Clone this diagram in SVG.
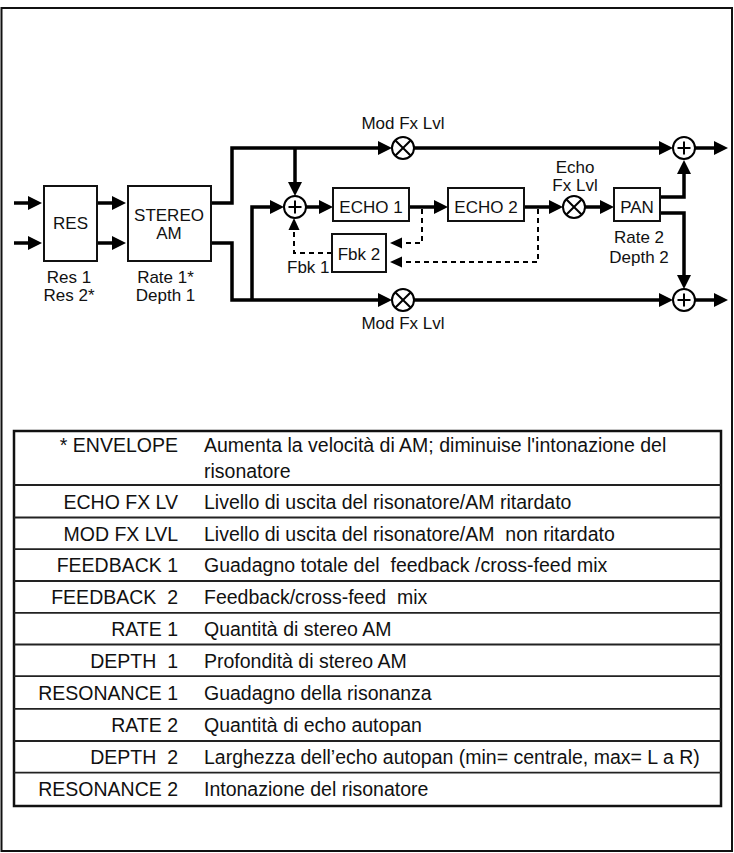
<svg xmlns="http://www.w3.org/2000/svg" width="734" height="853" viewBox="0 0 734 853" xml:space="preserve">
<style>
  .frame{fill:none;stroke:#111;stroke-width:2}
  .box{fill:#fff;stroke:#111;stroke-width:2}
  .sig{fill:none;stroke:#000;stroke-width:3.5;marker-end:url(#ah)}
  .dash{fill:none;stroke:#000;stroke-width:2;stroke-dasharray:5,4;marker-end:url(#ahs)}
  .op{fill:#fff;stroke:#000;stroke-width:2}
  .opl{stroke:#000;stroke-width:2}
  .t{font-family:"Liberation Sans",Arial,Helvetica,sans-serif;font-size:17px;fill:#111;text-anchor:middle}
  .tb{font-family:"Liberation Sans",Arial,Helvetica,sans-serif;font-size:19.5px;fill:#111;white-space:pre}
  .lab{text-anchor:end}
  .tbl{fill:none;stroke:#111;stroke-width:2.5}
  .row{stroke:#222;stroke-width:1.8}
</style>
<defs>
  <marker id="ah" viewBox="0 0 14 14" markerWidth="14" markerHeight="14" refX="0" refY="7" orient="auto" markerUnits="userSpaceOnUse">
    <path d="M0,0 L14,7 L0,14 z" fill="#000"/>
  </marker>
  <marker id="ahs" viewBox="0 0 12 12" markerWidth="12" markerHeight="12" refX="0" refY="6" orient="auto" markerUnits="userSpaceOnUse">
    <path d="M0,0.5 L12,6 L0,11.5 z" fill="#000"/>
  </marker>
  <g id="mul">
    <circle r="11" class="op"/>
    <line x1="-7.8" y1="-7.8" x2="7.8" y2="7.8" class="opl"/>
    <line x1="-7.8" y1="7.8" x2="7.8" y2="-7.8" class="opl"/>
  </g>
  <g id="sum">
    <circle r="11" class="op"/>
    <line x1="-6.5" y1="0" x2="6.5" y2="0" class="opl"/>
    <line x1="0" y1="-6.5" x2="0" y2="6.5" class="opl"/>
  </g>
</defs>

<rect x="1.5" y="8" width="730.5" height="843" class="frame"/>

<g id="connectors">
  <path class="sig" d="M14,203 H28"/>
  <path class="sig" d="M14,243 H28"/>
  <path class="sig" d="M97,203 H112"/>
  <path class="sig" d="M97,243 H112"/>
  <path class="sig" d="M211,203 H232 V148 H378"/>
  <path class="sig" d="M211,243 H232 V300 H378"/>
  <path class="sig" d="M295,148 V182"/>
  <path class="sig" d="M252,300 V207 H270"/>
  <path class="sig" d="M306,207 H319"/>
  <path class="sig" d="M409,207 H434"/>
  <path class="sig" d="M524,207 H549"/>
  <path class="sig" d="M585,207 H600"/>
  <path class="sig" d="M660,197 H684 V174"/>
  <path class="sig" d="M660,213 H684 V275"/>
  <path class="sig" d="M414,148 H659"/>
  <path class="sig" d="M414,300 H659"/>
  <path class="sig" d="M695,148 H714"/>
  <path class="sig" d="M695,300 H714"/>
  <path class="dash" d="M422,209 V243 H402"/>
  <path class="dash" d="M538,209 V262 H402"/>
  <path class="dash" d="M332,253 H294 V230"/>
</g>

<g id="res">
  <rect x="44" y="186" width="53" height="75" class="box"/>
  <text x="70.5" y="229" class="t">RES</text>
  <text x="69" y="283" class="t">Res 1</text>
  <text x="69" y="301" class="t">Res 2*</text>
</g>
<g id="stereo-am">
  <rect x="128" y="186" width="83" height="75" class="box"/>
  <text x="169" y="221" class="t">STEREO</text>
  <text x="169" y="239" class="t">AM</text>
  <text x="165.5" y="283" class="t">Rate 1*</text>
  <text x="165.5" y="301" class="t">Depth 1</text>
</g>
<g id="mul-top">
  <use href="#mul" x="403" y="148"/>
  <text x="403" y="129" class="t">Mod Fx Lvl</text>
</g>
<g id="mul-bottom">
  <use href="#mul" x="403" y="300"/>
  <text x="403" y="329" class="t">Mod Fx Lvl</text>
</g>
<g id="sum-in">
  <use href="#sum" x="295" y="207"/>
</g>
<g id="echo1">
  <rect x="333" y="188" width="76" height="33" class="box"/>
  <text x="371" y="213" class="t">ECHO 1</text>
</g>
<g id="echo2">
  <rect x="448" y="188" width="76" height="33" class="box"/>
  <text x="486" y="213" class="t">ECHO 2</text>
</g>
<g id="fbk2">
  <rect x="332" y="234" width="54" height="38" class="box"/>
  <text x="359" y="260" class="t">Fbk 2</text>
</g>
<g id="fbk1">
  <text x="287" y="273" class="t" style="text-anchor:start">Fbk 1</text>
</g>
<g id="mul-echo">
  <use href="#mul" x="574" y="207"/>
  <text x="575" y="173" class="t">Echo</text>
  <text x="575" y="191" class="t">Fx Lvl</text>
</g>
<g id="pan">
  <rect x="614" y="188" width="46" height="33" class="box"/>
  <text x="637" y="213" class="t">PAN</text>
  <text x="639" y="243" class="t">Rate 2</text>
  <text x="639" y="263" class="t">Depth 2</text>
</g>
<g id="sum-top">
  <use href="#sum" x="684" y="148"/>
</g>
<g id="sum-bottom">
  <use href="#sum" x="684" y="300"/>
</g>

<g id="table">
  <rect x="14" y="431" width="707" height="375" class="tbl"/>
  <line x1="14" y1="485" x2="721" y2="485" class="row"/>
  <line x1="14" y1="517.5" x2="721" y2="517.5" class="row"/>
  <line x1="14" y1="549.2" x2="721" y2="549.2" class="row"/>
  <line x1="14" y1="581" x2="721" y2="581" class="row"/>
  <line x1="14" y1="612.8" x2="721" y2="612.8" class="row"/>
  <line x1="14" y1="644.5" x2="721" y2="644.5" class="row"/>
  <line x1="14" y1="676.2" x2="721" y2="676.2" class="row"/>
  <line x1="14" y1="708.8" x2="721" y2="708.8" class="row"/>
  <line x1="14" y1="741" x2="721" y2="741" class="row"/>
  <line x1="14" y1="772.6" x2="721" y2="772.6" class="row"/>

  <text x="178" y="452" class="tb lab">* ENVELOPE</text>
  <text x="204" y="452" class="tb">Aumenta la velocità di AM; diminuise l'intonazione del</text>
  <text x="204" y="478" class="tb">risonatore</text>

  <text x="178" y="508.5" class="tb lab">ECHO FX LV</text>
  <text x="204" y="508.5" class="tb">Livello di uscita del risonatore/AM ritardato</text>

  <text x="178" y="540.5" class="tb lab">MOD FX LVL</text>
  <text x="204" y="540.5" class="tb">Livello di uscita del risonatore/AM  non ritardato</text>

  <text x="178" y="572.3" class="tb lab">FEEDBACK 1</text>
  <text x="204" y="572.3" class="tb">Guadagno totale del  feedback /cross-feed mix</text>

  <text x="178" y="604" class="tb lab">FEEDBACK  2</text>
  <text x="204" y="604" class="tb">Feedback/cross-feed  mix</text>

  <text x="178" y="635.8" class="tb lab">RATE 1</text>
  <text x="204" y="635.8" class="tb">Quantità di stereo AM</text>

  <text x="178" y="667.5" class="tb lab">DEPTH  1</text>
  <text x="204" y="667.5" class="tb">Profondità di stereo AM</text>

  <text x="178" y="699.5" class="tb lab">RESONANCE 1</text>
  <text x="204" y="699.5" class="tb">Guadagno della risonanza</text>

  <text x="178" y="732" class="tb lab">RATE 2</text>
  <text x="204" y="732" class="tb">Quantità di echo autopan</text>

  <text x="178" y="764" class="tb lab">DEPTH  2</text>
  <text x="204" y="764" class="tb">Larghezza dell’echo autopan (min= centrale, max= L a R)</text>

  <text x="178" y="796" class="tb lab">RESONANCE 2</text>
  <text x="204" y="796" class="tb">Intonazione del risonatore</text>
</g>
</svg>
